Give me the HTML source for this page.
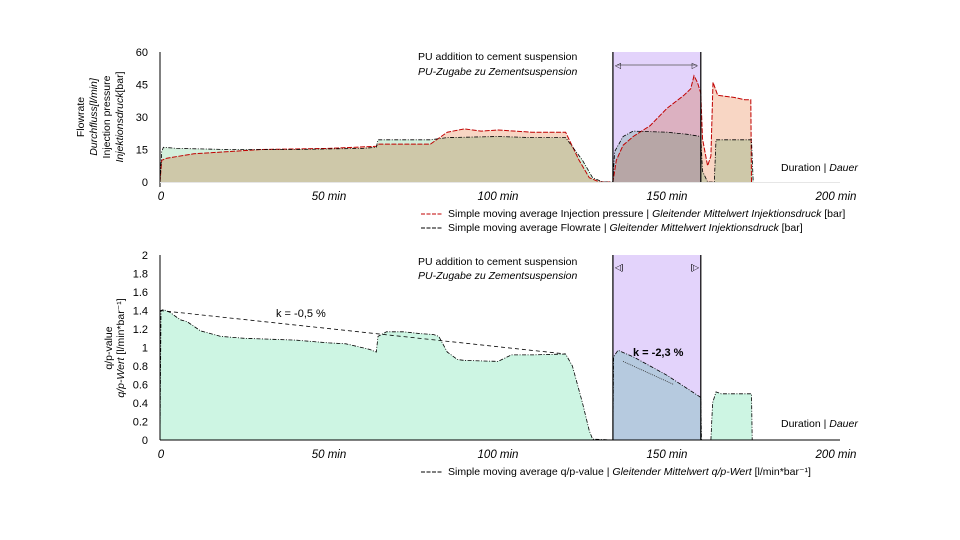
<!DOCTYPE html>
<html><head><meta charset="utf-8"><style>
body{margin:0;background:#fff;}
svg{display:block;font-family:"Liberation Sans",Arial,sans-serif;}
text{font-size:10.5px;fill:#000;}
</style></head><body>
<svg id="c" width="960" height="540">
<g id="g"></g>
</svg>
<script>
const flowT=[0,0.5,1,5,20,40,60,64,64.5,80,85,100,110,120,125,128,131,134,134.5,137,140,150,156,160,160.5,162,164,164.5,175,175.5];
const flowV=[0,14,16,15.5,15,15,15.5,16,19.5,19.5,20.5,21,20.5,20.5,10,2,0,0,14,21,23.5,23,22,21,5,0,0,19.5,19.5,0];
const presT=[0,0.5,2,10,30,50,64,64.5,80,85,90,95,100,110,120,124,127,130,134,135,137,140,145,150,155,157,158,159,160,160.5,162,163,163.6,165,170,173,174.8,175];
const presV=[0,10,11,13,15,15.5,16.5,17.5,17.5,23,24.5,23.5,24,23,23,10,2,0,0,10,17,21,26,34,40,43,49,46,41,20,7.5,12,46,40,39,38,38,0];
const qpT=[0,0.3,1,3,6,8,12,18,25,40,50,55,62,64,64.5,67,72,77,81,82.5,85,88,90,100,104,110,120,122,125,127,128,134,134.2,135.5,140,145,150,155,160,160.2,163,163.5,164.5,166,175,175.2];
const qpV=[0,1.4,1.41,1.38,1.3,1.28,1.18,1.12,1.1,1.08,1.05,1.04,0.98,0.95,1.12,1.17,1.17,1.15,1.14,1.12,0.95,0.87,0.86,0.85,0.92,0.92,0.93,0.8,0.4,0.1,0.01,0,0.9,0.97,0.9,0.8,0.7,0.58,0.46,0,0,0.4,0.52,0.5,0.5,0];
const topTicks=[0,15,30,45,60];
const botTicks=[0,0.2,0.4,0.6,0.8,1,1.2,1.4,1.6,1.8,2];
const xTicks=[0,50,100,150,200];
const puRange=[134,160];
const trend1=[[0,1.4],[120,0.93]];
const trend2=[[137,0.85],[152,0.6]];

const NS="http://www.w3.org/2000/svg";
const g=document.getElementById('g');
function el(tag,attrs,parent){const e=document.createElementNS(NS,tag);for(const k in attrs)e.setAttribute(k,attrs[k]);(parent||g).appendChild(e);return e;}
const X=t=>160+t*3.38;
const YT=v=>182-v*130/60;
const YB=v=>440-v*92.5;
function txt(x,y,s,o){const e=el('text',Object.assign({x:x,y:y},o||{}));e.textContent=s;return e;}
function pathOf(T,V,Y){return T.map((t,i)=>(i?'L':'M')+X(t).toFixed(1)+' '+Y(V[i]).toFixed(1)).join(' ');}
function area(T,V,Y){return pathOf(T,V,Y)+' L'+X(T[T.length-1])+' '+Y(0)+' L'+X(T[0])+' '+Y(0)+'Z';}

let e;
e=el('rect',{x:X(puRange[0]),y:YT(60),width:X(puRange[1])-X(puRange[0]),height:YT(0)-YT(60),fill:'#e3d3fb'});

e=el('rect',{x:X(puRange[0]),y:YB(2),width:X(puRange[1])-X(puRange[0]),height:YB(0)-YB(2),fill:'#e3d3fb'});


e=el('path',{d:area(presT,presV,YT),fill:'#f8d6c4',style:'mix-blend-mode:multiply'});

e=el('path',{d:area(flowT,flowV,YT),fill:'#d4efdc',style:'mix-blend-mode:multiply'});

e=el('path',{d:pathOf(presT,presV,YT),fill:'none',stroke:'#c00000','stroke-width':1,'stroke-dasharray':'5,1.5'});

e=el('path',{d:pathOf(flowT,flowV,YT),fill:'none',stroke:'#000','stroke-width':0.8,'stroke-dasharray':'4,1.5,1,1.5'});


e=el('path',{d:area(qpT,qpV,YB),fill:'#cdf5e3',style:'mix-blend-mode:multiply'});

e=el('path',{d:pathOf(qpT,qpV,YB),fill:'none',stroke:'#000','stroke-width':0.8,'stroke-dasharray':'4,1.5,1,1.5'});

e=el('line',{x1:X(trend1[0][0]),y1:YB(trend1[0][1]),x2:X(trend1[1][0]),y2:YB(trend1[1][1]),stroke:'#000','stroke-width':0.8,'stroke-dasharray':'4,3'});

e=el('line',{x1:X(trend2[0][0]),y1:YB(trend2[0][1]),x2:X(trend2[1][0]),y2:YB(trend2[1][1]),stroke:'#333','stroke-width':0.8,'stroke-dasharray':'1,1'});


[YT,YB].forEach((Y,k)=>{const top=k?2:60;
 [puRange[0],puRange[1]].forEach(t=>{e=el('line',{x1:X(t),y1:Y(top),x2:X(t),y2:Y(0),stroke:'#000','stroke-width':1.2});
 });});
e=el('line',{x1:X(puRange[0])+4,y1:65,x2:X(puRange[1])-4,y2:65,stroke:'#555','stroke-width':0.8});

txt(X(puRange[0])+2,68,'◁',{style:'font-size:8px'});
txt(X(puRange[1])-9,68,'▷',{style:'font-size:8px'});
txt(X(puRange[0])+2,270,'◁]',{style:'font-size:8px'});
txt(X(puRange[1])-10,270,'[▷',{style:'font-size:8px'});

el('line',{x1:160,y1:YT(60),x2:160,y2:187,stroke:'#000','stroke-width':1});
el('line',{x1:160,y1:YT(0)+0.5,x2:840,y2:YT(0)+0.5,stroke:'#e6e6e6','stroke-width':1});
el('line',{x1:160,y1:YB(2),x2:160,y2:YB(0),stroke:'#000','stroke-width':1});
el('line',{x1:160,y1:YB(0),x2:840,y2:YB(0),stroke:'#000','stroke-width':1});
topTicks.forEach(v=>{e=txt(148,YT(v)+4,String(v),{'text-anchor':'end',style:'font-size:11px'});
 });
botTicks.forEach(v=>{e=txt(148,YB(v)+4,String(v),{'text-anchor':'end',style:'font-size:11px'});
 });
xTicks.forEach(v=>{[200,458].forEach(y=>{e=txt(X(v)+(v?0:1),y,v?v+' min':'0',{'text-anchor':'middle','font-style':'italic',style:'font-size:11.5px'});
 });});

txt(418,60,'PU addition to cement suspension');
txt(418,75,'PU-Zugabe zu Zementsuspension',{'font-style':'italic'});
txt(418,265,'PU addition to cement suspension');
txt(418,279,'PU-Zugabe zu Zementsuspension',{'font-style':'italic'});
e=txt(781,171,'');e.innerHTML='Duration | <tspan font-style="italic">Dauer</tspan>';
e=txt(781,427,'');e.innerHTML='Duration | <tspan font-style="italic">Dauer</tspan>';
txt(276,317,'k = -0,5 %',{style:'font-size:11px'});
txt(633,356,'k = -2,3 %',{'font-weight':'bold',style:'font-size:11px'});

e=el('text',{transform:'translate(84,117) rotate(-90)','text-anchor':'middle'});e.textContent='Flowrate';
e=el('text',{transform:'translate(97,117) rotate(-90)','text-anchor':'middle','font-style':'italic'});e.textContent='Durchfluss[l/min]';
e=el('text',{transform:'translate(110,117) rotate(-90)','text-anchor':'middle'});e.textContent='Injection pressure';
e=el('text',{transform:'translate(123,117) rotate(-90)','text-anchor':'middle'});e.innerHTML='<tspan font-style="italic">Injektionsdruck</tspan>[bar]';
e=el('text',{transform:'translate(112,348) rotate(-90)','text-anchor':'middle'});e.textContent='q/p-value';
e=el('text',{transform:'translate(124,348) rotate(-90)','text-anchor':'middle'});e.innerHTML='<tspan font-style="italic">q/p-Wert</tspan> [l/min*bar⁻¹]';

el('line',{x1:421,y1:214,x2:442,y2:214,stroke:'#c00000','stroke-dasharray':'4,1.5'});
e=txt(448,217,'');e.innerHTML='Simple moving average Injection pressure | <tspan font-style="italic">Gleitender Mittelwert Injektionsdruck</tspan> [bar]';

el('line',{x1:421,y1:228,x2:442,y2:228,stroke:'#000','stroke-dasharray':'4,1.5'});
e=txt(448,231,'');e.innerHTML='Simple moving average Flowrate | <tspan font-style="italic">Gleitender Mittelwert Injektionsdruck</tspan> [bar]';

el('line',{x1:421,y1:472,x2:442,y2:472,stroke:'#000','stroke-dasharray':'4,1.5'});
e=txt(448,475,'');e.innerHTML='Simple moving average q/p-value | <tspan font-style="italic">Gleitender Mittelwert q/p-Wert</tspan> [l/min*bar⁻¹]';

</script>
</body></html>
